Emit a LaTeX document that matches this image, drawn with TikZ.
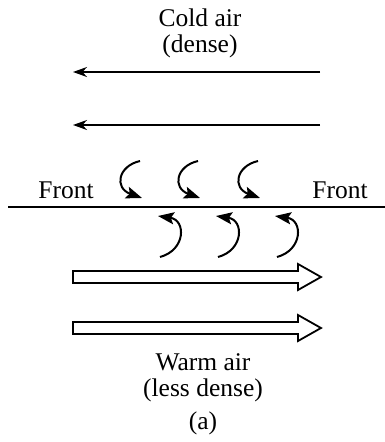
\documentclass[tikz,border=0pt]{standalone}
\usepackage{fontspec}
\setmainfont{Liberation Serif}
\usetikzlibrary{arrows.meta}
\begin{document}
\begin{tikzpicture}[x=1pt,y=-1pt,
  lbl/.style={inner sep=0pt,font=\fontsize{25.5}{28}\selectfont,align=center},
  coldarrow/.style={line width=1.8pt,-{Stealth[length=14pt,width=10pt]}},
  curl/.style={line width=2pt,-{Stealth[length=16pt,width=12pt,inset=3pt]}},
  hollow/.style={line width=1.8pt,draw=black,fill=white,line join=miter}]
\useasboundingbox (0,0) rectangle (385,442);
\node[lbl] (cold) at (200,33) {Cold air\\[-2pt](dense)};
\coordinate (c1r) at (320,72); \coordinate (c1l) at (73,72);
\coordinate (c2r) at (320,125); \coordinate (c2l) at (73,125);
\draw[coldarrow] (c1r) -- (c1l);
\draw[coldarrow] (c2r) -- (c2l);
\node[lbl] (frontL) at (66,190) {Front};
\node[lbl] (frontR) at (340,190) {Front};
\coordinate (fl) at (8,207); \coordinate (fr) at (385,207);
\draw[line width=2.8pt] (fl) -- (fr);
% upper curls
\foreach \x/\n in {0/a,58/b,118/c}{
  \coordinate (u\n s) at (140+\x,161);
  \coordinate (u\n e) at (142+\x,198);
  \draw[curl] (u\n s) .. controls (118+\x,166) and (114+\x,188) .. (u\n e);
}
% lower curls
\foreach \x/\n in {0/a,58/b,117/c}{
  \coordinate (l\n s) at (160+\x,257);
  \coordinate (l\n e) at (158+\x,216);
  \draw[curl] (l\n s) .. controls (186+\x,250) and (186+\x,220) .. (l\n e);
}
% hollow arrows
\foreach \y/\n in {277/w1,328/w2}{
  \draw[hollow] (73,\y-6) -- (298,\y-6) -- (298,\y-13) -- (321,\y) -- (298,\y+13) -- (298,\y+6) -- (73,\y+6) -- cycle;
}
\node[lbl] (warm) at (203,378) {Warm air\\[-2pt](less dense)};
\node[lbl] (sub) at (203,423) {(a)};
\end{tikzpicture}
\end{document}
